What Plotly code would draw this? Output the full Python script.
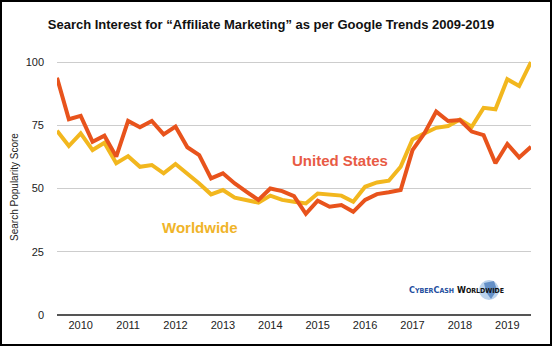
import plotly.graph_objects as go

# Quarterly Google Trends scores, 2010 Q1 .. 2020 Q1 (41 points)
quarters = [2010 + i / 4 for i in range(41)]
us_scores = [93.8, 77.4, 78.7, 68.5, 70.9, 62.6, 76.7, 74.2, 76.7, 71.4,
             74.5, 66.3, 63.2, 54.0, 56.0, 52.0, 48.7, 45.5, 50.0, 49.0,
             47.0, 40.0, 45.2, 42.8, 43.5, 40.8, 45.5, 47.8, 48.5, 49.4,
             65.2, 71.8, 80.4, 76.7, 77.1, 72.5, 71.1, 60.0, 67.6, 62.3,
             66.5]
world_scores = [72.8, 66.8, 71.8, 65.2, 68.1, 60.0, 62.8, 58.6, 59.3, 56.0,
                59.7, 56.0, 52.0, 47.7, 49.4, 46.4, 45.5, 44.4, 47.2, 45.5,
                44.8, 44.1, 48.0, 47.7, 47.2, 44.8, 50.7, 52.4, 53.1, 58.6,
                69.4, 71.8, 74.0, 74.7, 77.3, 74.4, 81.9, 81.3, 93.2, 90.5,
                100.0]
year_labels = ["2010", "2011", "2012", "2013", "2014",
               "2015", "2016", "2017", "2018", "2019"]
year_centers = [int(y) + 0.5 for y in year_labels]
y_ticks = [0, 25, 50, 75, 100]

ORANGE = "#E8531C"
YELLOW = "#F2B71E"

W, H = 552, 346
ML, MR, MT, MB = 57, 21, 59, 31
YMAX = 101.2

fig = go.Figure()
fig.add_trace(go.Scatter(x=quarters, y=world_scores, mode="lines",
                         line=dict(color=YELLOW, width=4), name="Worldwide"))
fig.add_trace(go.Scatter(x=quarters, y=us_scores, mode="lines",
                         line=dict(color=ORANGE, width=4), name="United States"))

font = "Liberation Sans, Arial, Helvetica, sans-serif"

fig.update_layout(
    width=W, height=H,
    margin=dict(l=ML, r=MR, t=MT, b=MB),
    paper_bgcolor="white", plot_bgcolor="white",
    showlegend=False,
    font=dict(family=font, color="#222"),
    title=dict(
        text="<b>Search Interest for \u201cAffiliate Marketing\u201d as per Google Trends 2009-2019</b>",
        x=271 / W, xref="container", xanchor="center",
        y=1 - 24 / H, yref="container", yanchor="middle",
        font=dict(size=13, color="#111", family=font),
    ),
    xaxis=dict(
        range=[2010, 2020], showgrid=False, zeroline=False,
        tickmode="array", tickvals=year_centers, ticktext=year_labels,
        ticks="", tickfont=dict(size=11, color="#222"),
        showline=False, ticklabelstandoff=2,
    ),
    yaxis=dict(
        range=[0, YMAX], tickmode="array", tickvals=y_ticks,
        showgrid=True, gridcolor="#CDCDCD", gridwidth=1,
        zeroline=True, zerolinecolor="#555", zerolinewidth=2,
        tickfont=dict(size=11, color="#222"), ticklabelstandoff=12,
        title=dict(text="Search Popularity Score", font=dict(size=10, color="#222"),
                   standoff=5),
    ),
)

# Series labels
fig.add_annotation(x=2010 + (340 - ML) / 47.4, y=(315 - 160) / 2.53,
                   text="<b>United States</b>", showarrow=False,
                   font=dict(size=15, color="#E85B45", family=font))
fig.add_annotation(x=2010 + (200 - ML) / 47.4, y=(315 - 227) / 2.53,
                   text="<b>Worldwide</b>", showarrow=False,
                   font=dict(size=15, color="#F0B429", family=font))

# Brand mark in the lower right corner
px = lambda v: (v - ML) / (W - ML - MR)
py = lambda v: (H - MB - v) / (H - MT - MB)
fig.add_shape(type="circle", xref="paper", yref="paper",
              x0=px(479), x1=px(499), y0=py(300), y1=py(280),
              fillcolor="rgba(60,130,200,0.35)", line=dict(width=0), layer="below")
fig.add_shape(type="path", xref="paper", yref="paper",
              path=f"M {px(484)},{py(283)} L {px(494)},{py(281)} L {px(497)},{py(290)} "
                   f"L {px(491)},{py(299)} L {px(486)},{py(292)} Z",
              fillcolor="rgba(30,90,170,0.55)", line=dict(width=0), layer="below")
fig.add_annotation(xref="paper", yref="paper", x=px(456), y=py(290),
                   text="<b><span style='color:#1F4FA0'>C<span style='font-size:7px'>YBER</span>C<span style='font-size:7px'>ASH</span></span>"
                        " W<span style='font-size:7px'>ORLDWIDE</span></b>",
                   showarrow=False, xanchor="center", yanchor="middle",
                   font=dict(size=9, color="#111",
                             family="Liberation Sans Narrow, Arial Narrow, DejaVu Sans Condensed, sans-serif"))

# Outer frame
fig.add_shape(type="rect", xref="paper", yref="paper",
              x0=px(1), x1=px(551), y0=py(345), y1=py(1),
              line=dict(color="black", width=2), fillcolor="rgba(0,0,0,0)")

fig.write_html("out.html")
